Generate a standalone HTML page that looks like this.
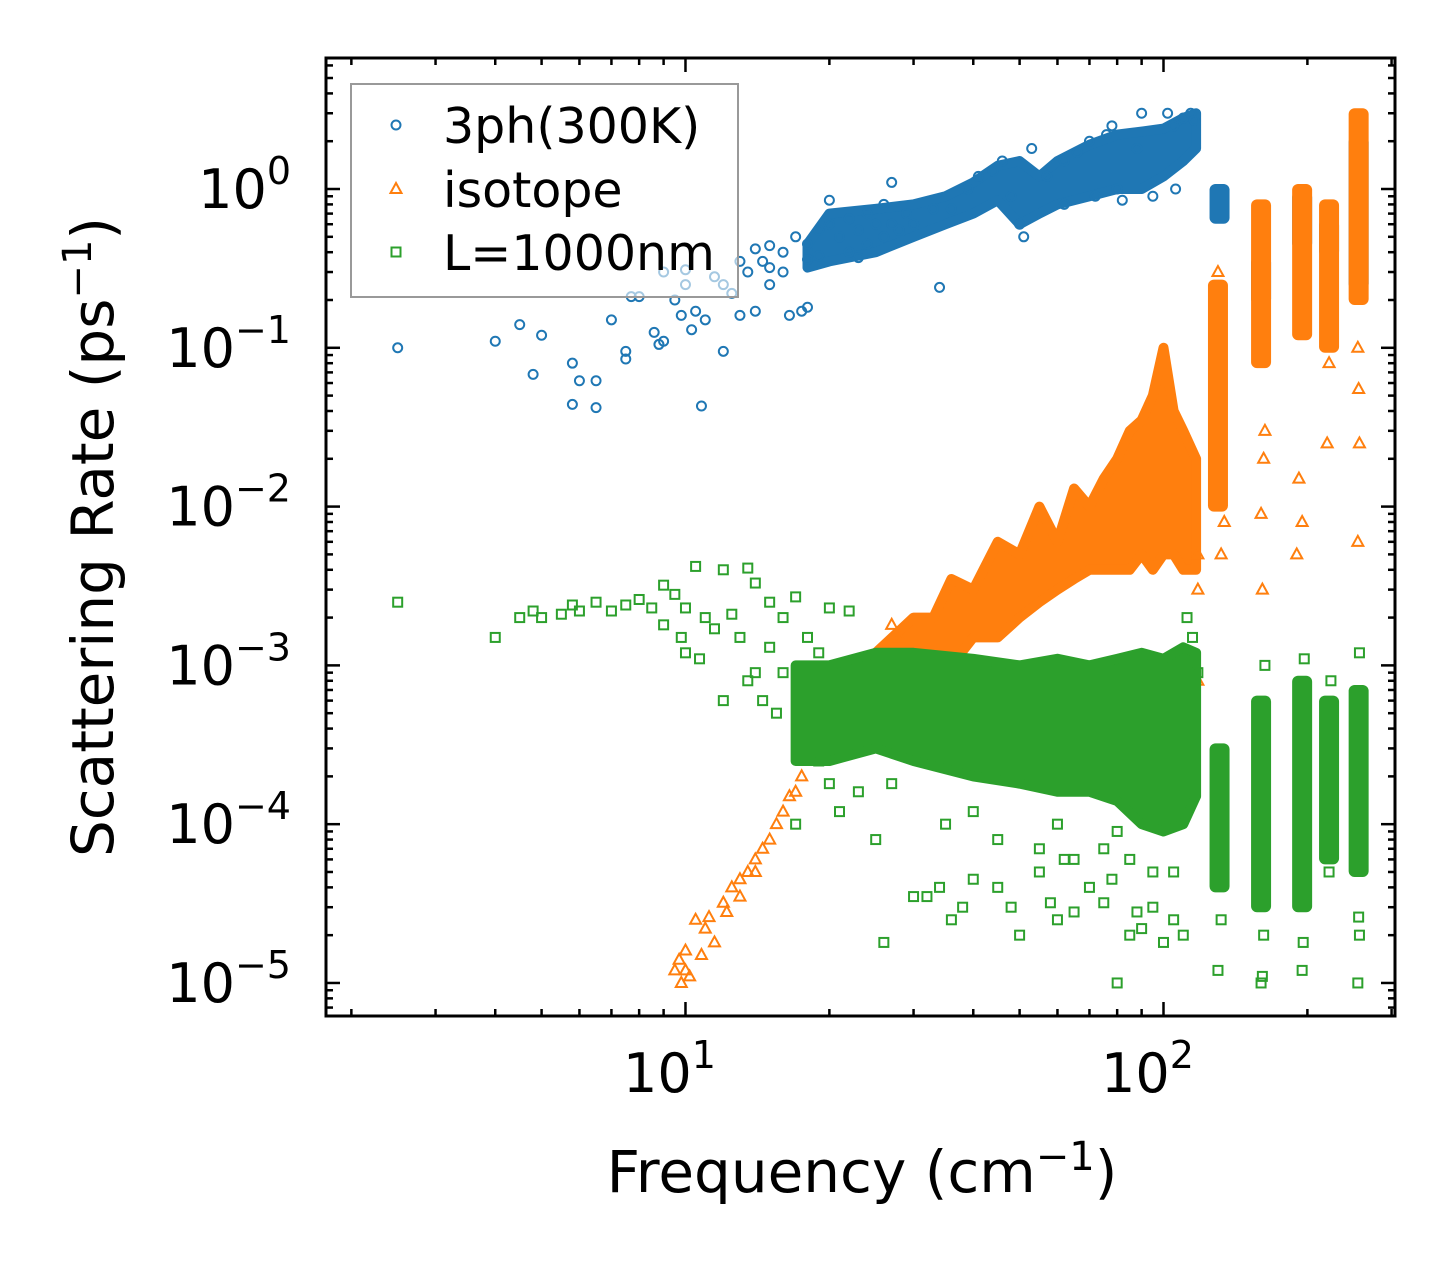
<!DOCTYPE html>
<html><head><meta charset="utf-8"><style>
html,body{margin:0;padding:0;background:#fff;}
svg{display:block;font-family:"DejaVu Sans","Liberation Sans",sans-serif;}
</style></head><body>
<svg id="chart" width="1455" height="1265" viewBox="0 0 1455 1265" xmlns="http://www.w3.org/2000/svg">
<rect width="1455" height="1265" fill="#fff"/>
<g id="marks"></g>
<g id="axes"></g>
</svg>
<script>
// ---- data ----
const xTickValues = [10, 100];
const xTickExps = ["1", "2"];
const yTickValues = [1, 0.1, 0.01, 0.001, 0.0001, 0.00001];
const yTickExps = ["0", "\u22121", "\u22122", "\u22123", "\u22124", "\u22125"];
const seriesNames = ["3ph(300K)", "isotope", "L=1000nm"];

// dense band envelopes: [freq, low, high]
const blueBand = [[18,0.32,0.45],[20,0.35,0.7],[25,0.4,0.75],[30,0.5,0.8],[35,0.6,0.9],[40,0.7,1.1],[45,0.85,1.4],[50,0.6,1.5],[55,0.7,1.2],[60,0.8,1.5],[70,0.9,1.9],[80,1.0,2.2],[90,1.0,2.3],[100,1.2,2.4],[110,1.5,2.8],[117,1.8,3.0]];
const orangeBand = [[25,0.0006,0.0012],[30,0.0005,0.002],[33,0.001,0.002],[36,0.001,0.0035],[40,0.0015,0.003],[45,0.0015,0.006],[50,0.002,0.005],[55,0.0025,0.01],[60,0.003,0.006],[65,0.0035,0.013],[70,0.004,0.01],[75,0.004,0.015],[80,0.004,0.02],[85,0.004,0.03],[90,0.005,0.035],[95,0.004,0.05],[100,0.005,0.1],[105,0.005,0.04],[110,0.004,0.03],[117,0.004,0.02]];
const greenBand = [[17,0.00025,0.001],[20,0.00025,0.001],[25,0.0003,0.0012],[30,0.00025,0.0012],[40,0.0002,0.0011],[50,0.00018,0.001],[60,0.00016,0.0011],[70,0.00016,0.001],[80,0.00014,0.0011],[90,0.0001,0.0012],[100,0.00009,0.0011],[110,0.0001,0.0013],[117,0.00015,0.0012]];
// columns: [freq, low, high]
const blueCols = [[131,0.65,1.0],[160,0.2,0.35],[195,0.45,0.9],[222,0.4,0.6],[256,0.25,2.0]];
const orangeCols = [[130,0.01,0.25],[160,0.08,0.8],[195,0.12,1.0],[222,0.1,0.8],[256,0.2,3.0]];
const greenCols = [[131,0.00004,0.0003],[160,0.00003,0.0006],[195,0.00003,0.0008],[222,0.00006,0.0006],[256,0.00005,0.0007]];

// scattered points [freq, rate]
const bluePts = [[2.5,0.1],[4,0.11],[4.5,0.14],[4.8,0.068],[5,0.12],[5.8,0.08],[5.8,0.044],[6,0.062],[6.5,0.042],[6.5,0.062],[7,0.15],[7.5,0.095],[7.5,0.085],[7.7,0.21],[8,0.21],[8.6,0.125],[8.8,0.105],[9,0.3],[9,0.11],[9.5,0.2],[9.8,0.16],[10,0.25],[10,0.31],[10.3,0.13],[10.5,0.17],[10.8,0.043],[11,0.15],[11.5,0.28],[12,0.095],[12,0.25],[12.5,0.22],[13,0.35],[13,0.16],[13.5,0.3],[14,0.17],[14,0.42],[14.5,0.35],[15,0.25],[15,0.44],[16,0.4],[16,0.3],[16.5,0.16],[17,0.5],[17.5,0.17],[18,0.45],[18,0.18],[19,0.55],[19,0.38],[20,0.6],[20,0.85],[21,0.5],[22,0.65],[22,0.4],[23,0.55],[24,0.7],[24,0.45],[25,0.6],[26,0.8],[26,0.5],[27,1.1],[27,0.6],[28,0.55],[29,0.7],[30,0.6],[33,0.75],[36,0.75],[39,1.0],[41,1.2],[44,1.3],[46,1.5],[48,0.9],[50,0.6],[51,0.5],[53,1.8],[57,1.2],[62,1.5],[62,0.8],[66,1.7],[70,2.0],[72,0.9],[76,2.2],[78,2.5],[80,1.0],[82,0.85],[88,1.8],[90,3.0],[95,0.9],[102,3.0],[105,2.5],[106,1.0],[110,2.8],[114,3.0],[116,2.7],[15,0.32],[18,0.36],[23,0.37],[34,0.24]];
const orangePts = [[9.5,0.000012],[9.7,0.000014],[9.8,0.00001],[10,0.000012],[10,0.000016],[10.2,0.000011],[10.5,0.000025],[10.8,0.000015],[11,0.000022],[11.2,0.000026],[11.5,0.000018],[12,0.000032],[12.2,0.000028],[12.5,0.00004],[13,0.000045],[13,0.000035],[13.5,0.00005],[14,0.00006],[14,0.00005],[14.5,0.00007],[15,0.00008],[15.5,0.0001],[16,0.00012],[16.5,0.00015],[17,0.00016],[17.5,0.0002],[18,0.00025],[18.5,0.0003],[19,0.00028],[20,0.0003],[21,0.0004],[22,0.0005],[23,0.0006],[24,0.0007],[25,0.0009],[26,0.0012],[27,0.0018],[28,0.0015],[30,0.0011],[118,0.005],[118,0.003],[130,0.3],[132,0.005],[134,0.008],[160,0.009],[161,0.003],[162,0.02],[163,0.03],[190,0.005],[192,0.015],[195,0.008],[220,0.025],[222,0.08],[255,0.006],[256,0.055],[257,0.025],[255,0.1],[118,0.0008]];
const greenPts = [[2.5,0.0025],[4,0.0015],[4.5,0.002],[4.8,0.0022],[5,0.002],[5.5,0.0021],[5.8,0.0024],[6,0.0022],[6.5,0.0025],[7,0.0022],[7.5,0.0024],[8,0.0026],[8.5,0.0023],[9,0.0032],[9,0.0018],[9.5,0.0028],[9.8,0.0015],[10,0.0023],[10,0.0012],[10.5,0.0042],[10.7,0.0011],[11,0.002],[11.5,0.0017],[12,0.004],[12,0.0006],[12.5,0.0021],[13,0.0015],[13.5,0.0041],[13.5,0.0008],[14,0.0033],[14,0.0009],[14.5,0.0006],[15,0.0025],[15,0.0013],[15.5,0.0005],[16,0.002],[16,0.0009],[17,0.0001],[17,0.0027],[18,0.0015],[19,0.00025],[19,0.0012],[20,0.0023],[20,0.00018],[21,0.00012],[22,0.0022],[23,0.00016],[25,0.00008],[26,0.000018],[27,0.00018],[30,0.000035],[32,0.000035],[34,0.00004],[36,0.000025],[38,0.00003],[40,0.000045],[45,0.00004],[48,0.00003],[50,0.00002],[55,0.00005],[58,0.000032],[60,0.000025],[62,0.00006],[65,0.000028],[70,0.00004],[75,0.000032],[78,0.000045],[80,0.00001],[85,0.00002],[88,0.000028],[90,0.000022],[95,0.00003],[100,0.000018],[105,0.000025],[110,0.00002],[112,0.002],[115,0.0015],[118,0.0009],[130,0.000012],[132,0.000025],[160,0.00001],[161,0.000011],[162,0.00002],[163,0.001],[195,0.000012],[196,0.000018],[197,0.0011],[222,0.00005],[224,0.0008],[255,0.00001],[256,0.000026],[257,0.0012],[257,0.00002],[35,0.0001],[45,0.00008],[55,0.00007],[65,0.00006],[75,0.00007],[85,0.00006],[95,0.00005],[105,0.00005],[40,0.00012],[60,0.0001],[80,0.00009]];

// ---- axes ----
const L=326,R=1395,T=58,B=1016;
const xLmin=Math.log10(1.77), xLmax=Math.log10(305);
const yLmin=-5.208, yLmax=0.825;
const xs=v=>L+(Math.log10(v)-xLmin)/(xLmax-xLmin)*(R-L);
const ys=v=>B-(Math.log10(v)-yLmin)/(yLmax-yLmin)*(B-T);
const NS="http://www.w3.org/2000/svg";
function mk(tag,attrs,parent){const e=document.createElementNS(NS,tag);for(const k in attrs)e.setAttribute(k,attrs[k]);parent.appendChild(e);return e;}
const marks=document.getElementById('marks');
const axes=document.getElementById('axes');
const cols=["#1f77b4","#ff7f0e","#2ca02c"];

function drawBand(band,color,name){
  let top=band.map(d=>xs(d[0])+','+ys(d[2]));
  let bot=band.slice().reverse().map(d=>xs(d[0])+','+ys(d[1]));
  const p=mk('polygon',{points:top.concat(bot).join(' '),fill:color,stroke:color,'stroke-width':10,'stroke-linejoin':'round'},marks);
  
  
}
function drawCols(c,color,name){
  c.forEach(d=>{
    const r=mk('rect',{x:xs(d[0])-10,y:ys(d[2])-5,width:20,height:ys(d[1])-ys(d[2])+10,fill:color,rx:6},marks);
    
    
  });
}
function marker(type,x,y,color,parent,name){
  let e;
  if(type===0) e=mk('circle',{cx:x,cy:y,r:4.5,fill:'none',stroke:color,'stroke-width':2},parent);
  else if(type===1) e=mk('polygon',{points:`${x},${y-6} ${x-5.5},${y+4} ${x+5.5},${y+4}`,fill:'none',stroke:color,'stroke-width':2},parent);
  else e=mk('rect',{x:x-4.5,y:y-4.5,width:9,height:9,fill:'none',stroke:color,'stroke-width':2},parent);
  
  
}
drawBand(blueBand,cols[0],'band-3ph');
drawCols(blueCols,cols[0],'column-3ph');
bluePts.forEach(d=>marker(0,xs(d[0]),ys(d[1]),cols[0],marks,'point-3ph'));
drawBand(orangeBand,cols[1],'band-isotope');
drawCols(orangeCols,cols[1],'column-isotope');
orangePts.forEach(d=>marker(1,xs(d[0]),ys(d[1]),cols[1],marks,'point-isotope'));
drawBand(greenBand,cols[2],'band-boundary');
drawCols(greenCols,cols[2],'column-boundary');
greenPts.forEach(d=>marker(2,xs(d[0]),ys(d[1]),cols[2],marks,'point-boundary'));

const fr=mk('rect',{x:L,y:T,width:R-L,height:B-T,fill:'none',stroke:'#000','stroke-width':3},axes);


for(let dec=0;dec<=2;dec++){
  for(let m=1;m<=9;m++){
    const v=m*Math.pow(10,dec);
    if(v<1.77||v>305)continue;
    const x=xs(v), len=m===1?14:7;
    mk('line',{x1:x,y1:B,x2:x,y2:B-len,stroke:'#000','stroke-width':2.5},axes);
    mk('line',{x1:x,y1:T,x2:x,y2:T+len,stroke:'#000','stroke-width':2.5},axes);
  }
}
xTickValues.forEach((v,i)=>{
  const t=mk('text',{x:xs(v)-16,y:1092,'text-anchor':'middle','font-size':54},axes);
  t.textContent='10';
  const s=mk('tspan',{dy:-24,'font-size':38},t); s.textContent=xTickExps[i];
  
  
});
for(let e=-6;e<=0;e++){
  for(let m=1;m<=9;m++){
    const v=m*Math.pow(10,e);
    const lv=Math.log10(v); if(lv<yLmin||lv>yLmax)continue;
    const y=ys(v), len=m===1?14:7;
    mk('line',{x1:L,y1:y,x2:L+len,y2:y,stroke:'#000','stroke-width':2.5},axes);
    mk('line',{x1:R,y1:y,x2:R-len,y2:y,stroke:'#000','stroke-width':2.5},axes);
  }
}
yTickValues.forEach((v,i)=>{
  const t=mk('text',{x:291,y:ys(v)+19,'text-anchor':'end','font-size':54},axes);
  t.textContent='10';
  const s=mk('tspan',{dy:-24,'font-size':38},t); s.textContent=yTickExps[i];
  
  
});
const xt=mk('text',{x:862,y:1192,'text-anchor':'middle','font-size':58},axes);
xt.innerHTML='Frequency (cm<tspan dy="-22" font-size="40">\u22121</tspan><tspan dy="22">)</tspan>';


const yt=mk('text',{x:0,y:0,'text-anchor':'middle','font-size':58,transform:'translate(113,537) rotate(-90)'},axes);
yt.innerHTML='Scattering Rate (ps<tspan dy="-22" font-size="40">\u22121</tspan><tspan dy="22">)</tspan>';


const lg=mk('g',{},axes);


mk('rect',{x:351,y:84,width:387,height:213,fill:'#fff','fill-opacity':0.6,stroke:'#999','stroke-width':2},lg);
const ly=[125,189,252];
seriesNames.forEach((n,i)=>{
  const g=mk('g',{},lg);
  
  
  marker(i,396,ly[i],cols[i],g,'legend-marker');
  const t=mk('text',{x:443,y:ly[i]+18,'font-size':49},g);
  t.textContent=n;
  
  
});
</script>
</body></html>
